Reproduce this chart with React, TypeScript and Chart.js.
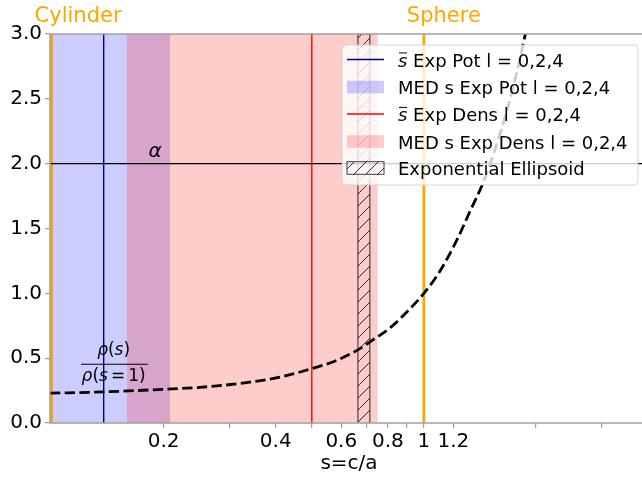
import React, { useEffect, useRef } from 'react';
import { Chart, registerables } from 'chart.js';

Chart.register(...registerables);

// ---- data ----
const curveS = [0.099, 0.138, 0.184, 0.25, 0.341, 0.42, 0.494, 0.58, 0.661, 0.716, 0.82, 0.917, 1.0, 1.104, 1.226, 1.329, 1.431, 1.532, 1.702, 1.867, 1.95];
const curveRatio = [0.23, 0.24, 0.255, 0.275, 0.315, 0.36, 0.415, 0.48, 0.56, 0.625, 0.745, 0.88, 1.0, 1.17, 1.41, 1.63, 1.83, 2.06, 2.49, 2.98, 3.25];
const potMeanS = 0.138;
const potMedRange = [0.099, 0.208];
const densMeanS = 0.5;
const densMedRange = [0.1594, 0.752];
const ellipsoidRange = [0.665, 0.716];
const cylinderS = 0.1;
const sphereS = 1;
const alphaLevel = 2;
const xRange = [0.099, 4];
const yRange = [0, 3];
const xTickValues = [0.2, 0.3, 0.4, 0.5, 0.6, 0.7, 0.8, 0.9, 1, 1.2, 2, 3];
const xLabeledValues = [0.2, 0.4, 0.6, 0.8, 1, 1.2];
const xLabelTexts = ['0.2', '0.4', '0.6', '0.8', '1', '1.2'];
const legendLabels = [' Exp Pot l = 0,2,4', 'MED s Exp Pot l = 0,2,4', ' Exp Dens l = 0,2,4', 'MED s Exp Dens l = 0,2,4', 'Exponential Ellipsoid'];

const FONT = "'DejaVu Sans'";
const BLUE_SPAN = 'rgba(0,0,255,0.2)';
const RED_SPAN = 'rgba(255,0,0,0.2)';
const ORANGE = '#ffa500';
const SPINE = '#a0a0a0';

function makeHatch(ctx: CanvasRenderingContext2D): CanvasPattern | string {
  const c = document.createElement('canvas');
  c.width = 12;
  c.height = 12;
  const g = c.getContext('2d')!;
  g.strokeStyle = 'rgba(0,0,0,0.8)';
  g.lineWidth = 1;
  g.beginPath();
  g.moveTo(0, 12); g.lineTo(12, 0);
  g.moveTo(-3, 3); g.lineTo(3, -3);
  g.moveTo(9, 15); g.lineTo(15, 9);
  g.stroke();
  return ctx.createPattern(c, 'repeat') || 'transparent';
}

type Seg = { t: string; it?: boolean; gap?: number };
function drawSegs(ctx: CanvasRenderingContext2D, segs: Seg[], cx: number, y: number, size: number) {
  const fontOf = (s: Seg) => `${s.it ? 'italic ' : ''}${size}px ${FONT}`;
  let total = 0;
  for (const s of segs) {
    ctx.font = fontOf(s);
    total += ctx.measureText(s.t).width + (s.gap || 0);
  }
  let x = cx - total / 2;
  ctx.textAlign = 'left';
  ctx.textBaseline = 'alphabetic';
  for (const s of segs) {
    ctx.font = fontOf(s);
    ctx.fillText(s.t, x, y);
    x += ctx.measureText(s.t).width + (s.gap || 0);
  }
}

export default function App() {
  const ref = useRef<HTMLCanvasElement | null>(null);

  useEffect(() => {
    const canvas = ref.current!;
    const ctx0 = canvas.getContext('2d')!;
    const hatch = makeHatch(ctx0);

    const vline = (s: number) => [{ x: s, y: yRange[0] }, { x: s, y: yRange[1] }];
    const span = (r: number[]) => [{ x: r[0], y: yRange[1] }, { x: r[1], y: yRange[1] }];

    const extras = {
      id: 'extras',
      afterDatasetsDraw(chart: any) {
        const { ctx, chartArea: a, scales } = chart;
        const xs = scales.x, ys = scales.y;
        ctx.save();
        // spines
        ctx.strokeStyle = SPINE;
        ctx.lineWidth = 1.5;
        ctx.strokeRect(a.left, a.top, a.right - a.left, a.bottom - a.top);
        // titles
        ctx.fillStyle = ORANGE;
        ctx.font = `21px ${FONT}`;
        ctx.textAlign = 'left';
        ctx.textBaseline = 'alphabetic';
        ctx.fillText('Cylinder', xs.getPixelForValue(cylinderS * 0.9), 22);
        ctx.fillText('Sphere', xs.getPixelForValue(sphereS * 0.9), 22);
        // alpha
        ctx.fillStyle = '#000';
        ctx.font = `italic 20px ${FONT}`;
        ctx.fillText('α', xs.getPixelForValue(0.182), ys.getPixelForValue(2.05));
        // fraction
        const fl = xs.getPixelForValue(0.12);
        const fy = ys.getPixelForValue(0.453);
        const fw = 67;
        const fc = fl + fw / 2;
        ctx.strokeStyle = '#000';
        ctx.lineWidth = 1;
        ctx.beginPath();
        ctx.moveTo(fl, fy);
        ctx.lineTo(fl + fw, fy);
        ctx.stroke();
        drawSegs(ctx, [{ t: 'ρ', it: true }, { t: '(' }, { t: 's', it: true }, { t: ')' }], fc - 1, fy - 9.6, 17);
        drawSegs(ctx, [{ t: 'ρ', it: true }, { t: '(' }, { t: 's', it: true, gap: 3 }, { t: '=', gap: 3 }, { t: '1' }, { t: ')' }], fc - 1, fy + 17, 17);
        ctx.restore();
      },
      afterDraw(chart: any) {
        const { ctx, chartArea: a } = chart;
        ctx.save();
        const bx = a.right - 306, by = a.top + 11, bw = 296, bh = 140, r = 4;
        ctx.beginPath();
        ctx.moveTo(bx + r, by);
        ctx.lineTo(bx + bw - r, by);
        ctx.arcTo(bx + bw, by, bx + bw, by + r, r);
        ctx.lineTo(bx + bw, by + bh - r);
        ctx.arcTo(bx + bw, by + bh, bx + bw - r, by + bh, r);
        ctx.lineTo(bx + r, by + bh);
        ctx.arcTo(bx, by + bh, bx, by + bh - r, r);
        ctx.lineTo(bx, by + r);
        ctx.arcTo(bx, by, bx + r, by, r);
        ctx.closePath();
        ctx.fillStyle = 'rgba(255,255,255,0.8)';
        ctx.fill();
        ctx.strokeStyle = 'rgba(204,204,204,0.8)';
        ctx.lineWidth = 1;
        ctx.stroke();

        const rows = [14.5, 42, 69, 96.5, 123];
        const hx0 = bx + 5, hx1 = bx + 42, tx = bx + 56;
        rows.forEach((dy, i) => {
          const cy = by + dy;
          if (i === 0 || i === 2) {
            ctx.strokeStyle = i === 0 ? '#00008b' : '#ff0000';
            ctx.lineWidth = 1.4;
            ctx.beginPath();
            ctx.moveTo(hx0, cy);
            ctx.lineTo(hx1, cy);
            ctx.stroke();
          } else if (i === 1 || i === 3) {
            ctx.fillStyle = i === 1 ? BLUE_SPAN : RED_SPAN;
            ctx.fillRect(hx0, cy - 6.3, hx1 - hx0, 12.6);
          } else {
            ctx.fillStyle = hatch as any;
            ctx.fillRect(hx0, cy - 6.3, hx1 - hx0, 12.6);
            ctx.strokeStyle = 'rgba(0,0,0,0.75)';
            ctx.lineWidth = 1;
            ctx.strokeRect(hx0, cy - 6.3, hx1 - hx0, 12.6);
          }
          ctx.fillStyle = '#000';
          ctx.textAlign = 'left';
          ctx.textBaseline = 'alphabetic';
          const base = cy + 7;
          if (i === 0 || i === 2) {
            ctx.font = `italic 18px ${FONT}`;
            ctx.fillText('s', tx, base);
            const sw = ctx.measureText('s').width;
            ctx.strokeStyle = '#000';
            ctx.lineWidth = 1;
            ctx.beginPath();
            ctx.moveTo(tx + 1, base - 13.6);
            ctx.lineTo(tx + 9, base - 13.6);
            ctx.stroke();
            ctx.font = `18px ${FONT}`;
            ctx.fillText(legendLabels[i], tx + sw, base);
          } else {
            ctx.font = `18px ${FONT}`;
            ctx.fillText(legendLabels[i], tx, base);
          }
        });
        ctx.restore();
      },
    };

    const chart = new Chart(canvas, {
      type: 'line',
      data: {
        datasets: [
          { data: span(potMedRange), fill: 'start', backgroundColor: BLUE_SPAN, borderColor: 'transparent', pointRadius: 0, order: 10 } as any,
          { data: span(densMedRange), fill: 'start', backgroundColor: RED_SPAN, borderColor: 'transparent', pointRadius: 0, order: 9 } as any,
          {
            data: [
              { x: ellipsoidRange[0], y: yRange[0] },
              { x: ellipsoidRange[0], y: yRange[1] },
              { x: ellipsoidRange[1], y: yRange[1] },
              { x: ellipsoidRange[1], y: yRange[0] },
            ],
            fill: 'start', backgroundColor: hatch, borderColor: 'rgba(0,0,0,0.7)', borderWidth: 1.2, pointRadius: 0, order: 8,
          } as any,
          { data: vline(potMeanS), borderColor: '#00008b', borderWidth: 1.4, pointRadius: 0, fill: false, order: 6 } as any,
          { data: vline(densMeanS), borderColor: '#ff0000', borderWidth: 1.4, pointRadius: 0, fill: false, order: 6 } as any,
          { data: vline(cylinderS), borderColor: ORANGE, borderWidth: 2.8, pointRadius: 0, fill: false, order: 5 } as any,
          { data: vline(sphereS), borderColor: ORANGE, borderWidth: 2.8, pointRadius: 0, fill: false, order: 5 } as any,
          { data: [{ x: xRange[0], y: alphaLevel }, { x: xRange[1], y: alphaLevel }], borderColor: '#000', borderWidth: 1.2, pointRadius: 0, fill: false, order: 4 } as any,
          {
            data: curveS.map((s, i) => ({ x: s, y: curveRatio[i] })),
            borderColor: '#000', borderWidth: 2.8, borderDash: [10.3, 4.4], pointRadius: 0, fill: false,
            cubicInterpolationMode: 'monotone', order: 1,
          } as any,
        ],
      },
      options: {
        responsive: false,
        animation: false,
        events: [],
        layout: { padding: { left: 0, right: 0, top: 34, bottom: 0 } },
        plugins: { legend: { display: false }, tooltip: { enabled: false } },
        scales: {
          x: {
            type: 'logarithmic',
            min: xRange[0],
            max: xRange[1],
            border: { display: false },
            grid: { display: true, drawOnChartArea: false, drawTicks: true, tickLength: 5, color: SPINE, lineWidth: 1.2 },
            afterBuildTicks: (scale: any) => {
              scale.ticks = xTickValues.map((v) => ({ value: v }));
            },
            afterFit: (scale: any) => { scale.height = 58; },
            ticks: {
              autoSkip: false,
              maxRotation: 0,
              minRotation: 0,
              padding: 2,
              color: '#000',
              font: { family: 'DejaVu Sans', size: 20 },
              callback: (v: any) => {
                const idx = xLabeledValues.findIndex((t) => Math.abs(t - Number(v)) < 1e-9);
                return idx >= 0 ? xLabelTexts[idx] : '';
              },
            },
            title: { display: true, text: 's=c/a', color: '#000', font: { family: 'DejaVu Sans', size: 20 }, padding: { top: 0, bottom: 5 } },
          },
          y: {
            type: 'linear',
            min: yRange[0],
            max: yRange[1],
            border: { display: false },
            grid: { display: true, drawOnChartArea: false, drawTicks: true, tickLength: 5, color: SPINE, lineWidth: 1.2 },
            afterFit: (scale: any) => { scale.width = 50; },
            ticks: {
              stepSize: 0.5,
              padding: 3,
              color: '#000',
              font: { family: 'DejaVu Sans', size: 20 },
              callback: (v: any) => Number(v).toFixed(1),
            },
          },
        },
      },
      plugins: [extras],
    } as any);

    return () => chart.destroy();
  }, []);

  return (
    <div style={{ position: 'absolute', left: 0, top: 0, width: 642, height: 481, overflow: 'hidden', background: '#fff' }}>
      <canvas ref={ref} width={648} height={481} style={{ display: 'block' }} />
    </div>
  );
}
